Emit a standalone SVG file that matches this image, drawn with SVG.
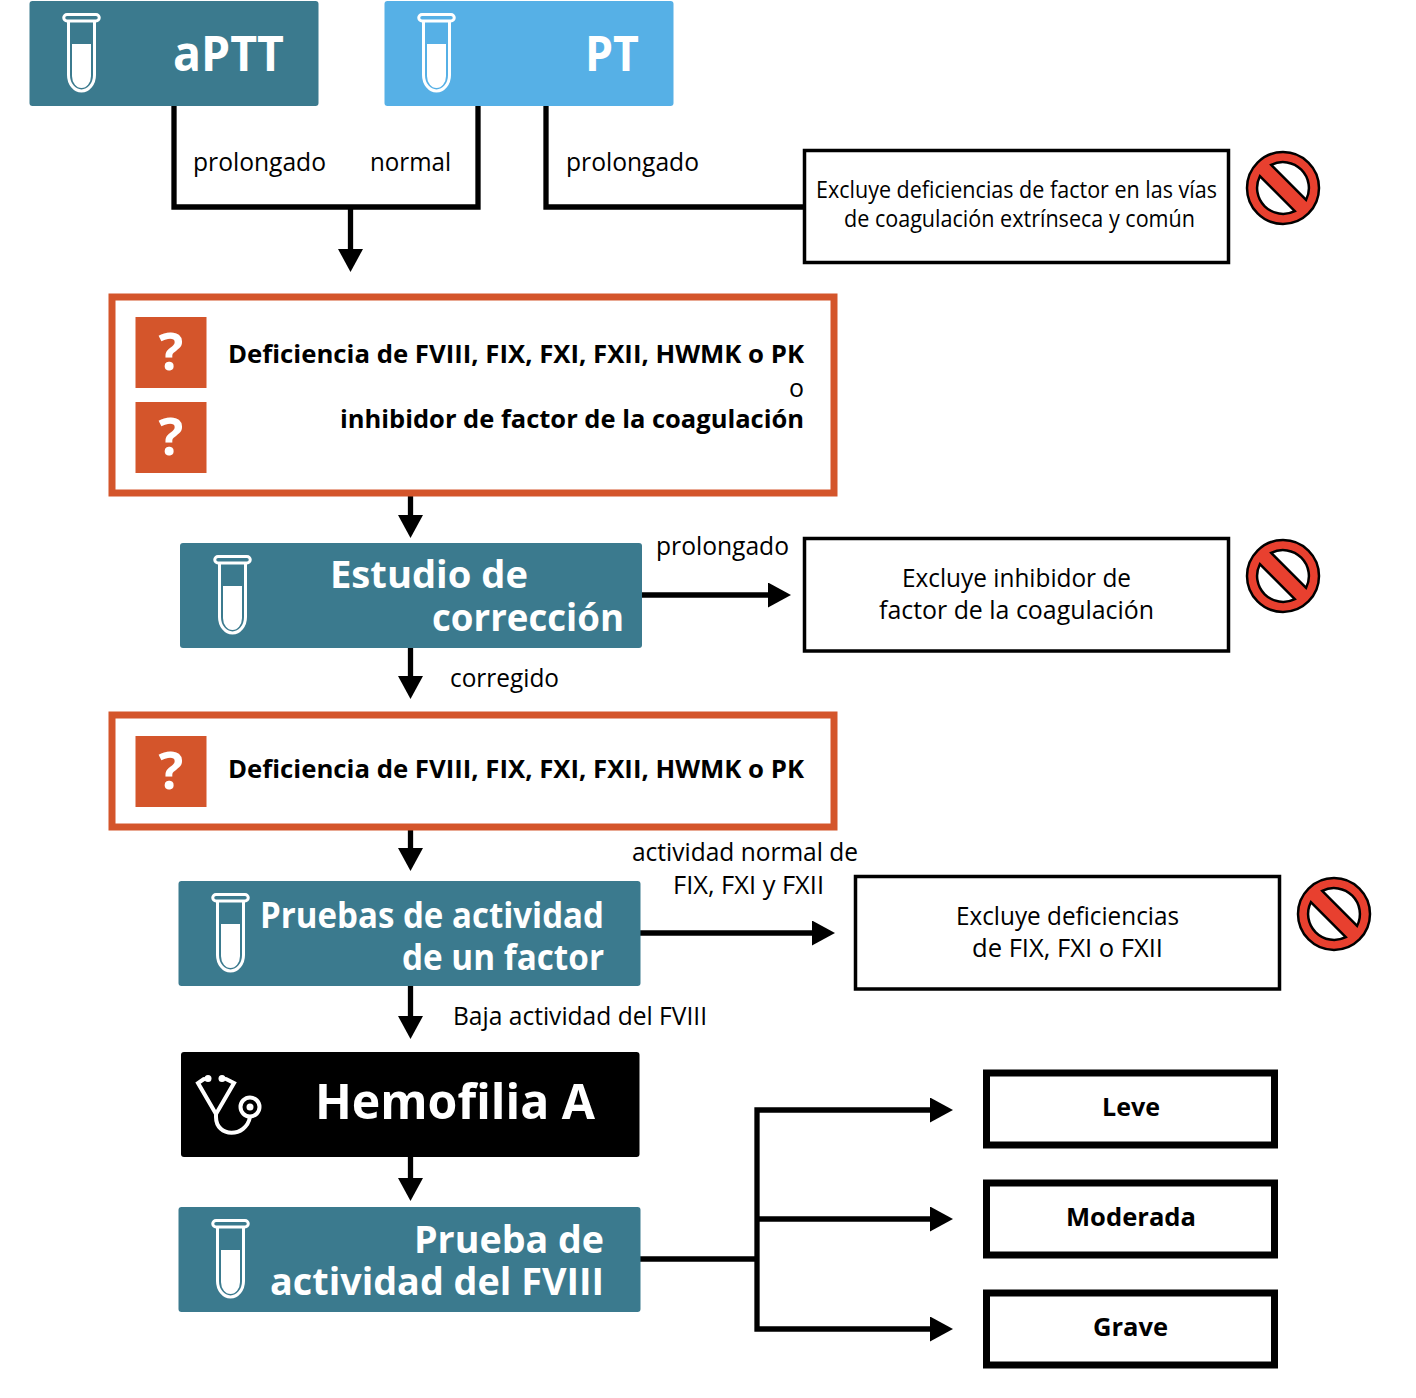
<svg xmlns="http://www.w3.org/2000/svg" xmlns:xlink="http://www.w3.org/1999/xlink" width="1416" height="1398" viewBox="0 0 1416 1398">
<style>
text{font-family:"Open Sans","Noto Sans","Liberation Sans",sans-serif;fill:#000}
.l{font-size:25.500px}
.x{font-size:23px}
.b{font-size:25.500px;font-weight:700}
.h{font-weight:700;fill:#fff;font-size:38px}
.k{font-size:49px}
.q1{font-size:52px;text-anchor:middle}
.c{fill:none;stroke:#000;stroke-width:5.300}
.t{fill:#3b7a8e}
.o{fill:none;stroke:#d4552b;stroke-width:7}
.q{fill:#d4552b}
.box{fill:#fff;stroke:#000;stroke-width:3.500}
.sev{fill:#fff;stroke:#000;stroke-width:7}
</style>
<defs>
<marker id="a" markerUnits="userSpaceOnUse" markerWidth="24" markerHeight="25" refX="0.500" refY="12.500" orient="auto"><path d="M0 0L23 12.500L0 25z" fill="#000"/></marker>
<g id="tube">
<path d="M-13-27H-14.500a3.250 3.250 0 0 1 0-6.500H14.500a3.250 3.250 0 0 1 0 6.500H13V27a13 16 0 0 1-26 0V-27H13" fill="none" stroke="#fff" stroke-width="3"/>
<path d="M-9.500-4H9.500V28a9.500 12 0 0 1-19 0z" fill="#fff"/>
</g>
<g id="no">
<circle r="36" fill="#e8402f" stroke="#000" stroke-width="2.500"/>
<g transform="rotate(45)"><path d="M-24.700-8A26 26 0 0 1 24.700-8z M24.700 8A26 26 0 0 1-24.700 8z" fill="#fff" stroke="#000" stroke-width="2.500"/></g>
</g>
</defs>
<g id="connectors">
<path class="c" d="M174 106V207H478V106"/>
<path class="c" d="M350.500 207V249.500" marker-end="url(#a)"/>
<path class="c" d="M546 106V207H805"/>
<path class="c" d="M410.500 495V515.500" marker-end="url(#a)"/>
<path class="c" d="M642 595H768.500" marker-end="url(#a)"/>
<path class="c" d="M410.500 648V676.500" marker-end="url(#a)"/>
<path class="c" d="M410.500 829V848.500" marker-end="url(#a)"/>
<path class="c" d="M640 933H812.500" marker-end="url(#a)"/>
<path class="c" d="M410.500 986V1016.500" marker-end="url(#a)"/>
<path class="c" d="M410.500 1157V1178.500" marker-end="url(#a)"/>
<path class="c" d="M640 1259H757"/>
<path class="c" d="M757 1259V1110H930.500" marker-end="url(#a)"/>
<path class="c" d="M757 1219H930.500" marker-end="url(#a)"/>
<path class="c" d="M757 1259V1329H930.500" marker-end="url(#a)"/>
</g>
<g id="labels">
<text class="l" x="193" y="171" textLength="133" lengthAdjust="spacingAndGlyphs">prolongado</text>
<text class="l" x="370" y="171" textLength="81" lengthAdjust="spacingAndGlyphs">normal</text>
<text class="l" x="566" y="171" textLength="133" lengthAdjust="spacingAndGlyphs">prolongado</text>
<text class="l" x="656" y="555" textLength="133" lengthAdjust="spacingAndGlyphs">prolongado</text>
<text class="l" x="450" y="687" textLength="109" lengthAdjust="spacingAndGlyphs">corregido</text>
<text class="l" x="632" y="861" textLength="226" lengthAdjust="spacingAndGlyphs">actividad normal de</text>
<text class="l" x="673" y="894" textLength="151" lengthAdjust="spacingAndGlyphs">FIX, FXI y FXII</text>
<text class="l" x="453" y="1025" textLength="254" lengthAdjust="spacingAndGlyphs">Baja actividad del FVIII</text>
</g>
<g id="aptt"><rect class="t" x="29.500" y="1" width="289" height="105" rx="3"/><use xlink:href="#tube" x="81.500" y="48"/><text class="h k" x="173" y="71" textLength="111" lengthAdjust="spacingAndGlyphs">aPTT</text></g>
<g id="pt"><rect x="384.500" y="1" width="289" height="105" rx="3" fill="#56b0e6"/><use xlink:href="#tube" x="436.500" y="48"/><text class="h k" x="585" y="71" textLength="54" lengthAdjust="spacingAndGlyphs">PT</text></g>
<g id="excl1"><rect class="box" x="804.500" y="150.500" width="424" height="112"/><text class="x" x="816" y="198" textLength="401" lengthAdjust="spacingAndGlyphs">Excluye deficiencias de factor en las vías</text><text class="x" x="844" y="227" textLength="351" lengthAdjust="spacingAndGlyphs">de coagulación extrínseca y común</text><use xlink:href="#no" x="1283" y="188"/></g>
<g id="susp1"><rect class="o" x="112" y="297" width="722" height="196"/>
<rect class="q" x="135.500" y="317" width="71" height="71"/><text class="h q1" x="171" y="370">?</text>
<rect class="q" x="135.500" y="402" width="71" height="71"/><text class="h q1" x="171" y="455">?</text>
<text class="b" x="228" y="363" textLength="576" lengthAdjust="spacingAndGlyphs">Deficiencia de FVIII, FIX, FXI, FXII, HWMK o PK</text><text class="l" x="789" y="397" textLength="15" lengthAdjust="spacingAndGlyphs">o</text><text class="b" x="340" y="428" textLength="464" lengthAdjust="spacingAndGlyphs">inhibidor de factor de la coagulación</text></g>
<g id="correccion"><rect class="t" x="180" y="543" width="462" height="105" rx="3"/><use xlink:href="#tube" x="232.500" y="590"/><text class="h" x="330" y="588" textLength="198" lengthAdjust="spacingAndGlyphs">Estudio de</text><text class="h" x="432" y="631" textLength="192" lengthAdjust="spacingAndGlyphs">corrección</text></g>
<g id="excl2"><rect class="box" x="804.500" y="538.500" width="424" height="112.500"/><text class="l" x="902" y="587" textLength="229" lengthAdjust="spacingAndGlyphs">Excluye inhibidor de</text><text class="l" x="879" y="619" textLength="275" lengthAdjust="spacingAndGlyphs">factor de la coagulación</text><use xlink:href="#no" x="1283" y="576"/></g>
<g id="susp2"><rect class="o" x="112" y="715" width="722" height="112"/><rect class="q" x="135.500" y="736" width="71" height="71"/><text class="h q1" x="171" y="789">?</text><text class="b" x="228" y="778" textLength="576" lengthAdjust="spacingAndGlyphs">Deficiencia de FVIII, FIX, FXI, FXII, HWMK o PK</text></g>
<g id="actividad"><rect class="t" x="178.500" y="881" width="462" height="105" rx="3"/><use xlink:href="#tube" x="230.500" y="928"/><text class="h" x="260" y="928" textLength="344" lengthAdjust="spacingAndGlyphs" style="font-size:36px">Pruebas de actividad</text><text class="h" x="402" y="970" textLength="202" lengthAdjust="spacingAndGlyphs" style="font-size:36px">de un factor</text></g>
<g id="excl3"><rect class="box" x="855.500" y="876.500" width="424" height="112.500"/><text class="l" x="956" y="925" textLength="223" lengthAdjust="spacingAndGlyphs">Excluye deficiencias</text><text class="l" x="972" y="957" textLength="191" lengthAdjust="spacingAndGlyphs">de FIX, FXI o FXII</text><use xlink:href="#no" x="1334" y="914"/></g>
<g id="hemofilia"><rect x="181" y="1052" width="458.500" height="105" rx="3" fill="#000"/>
<g fill="none" stroke="#fff" stroke-width="4" stroke-linecap="round"><path d="M204 1079L198 1083L216 1114M226 1079L234 1083L216 1114"/><path d="M216 1114V1117C216 1138 246 1138 250 1117"/><circle cx="250" cy="1107" r="9.500"/></g><circle cx="250" cy="1107" r="3.500" fill="#fff"/><circle cx="208" cy="1078.500" r="3.500" fill="#fff"/><circle cx="222" cy="1078.500" r="3.500" fill="#fff"/>
<text class="h" x="315" y="1119" style="font-size:49px" textLength="280" lengthAdjust="spacingAndGlyphs">Hemofilia A</text></g>
<g id="prueba"><rect class="t" x="178.500" y="1207" width="462" height="105" rx="3"/><use xlink:href="#tube" x="230.500" y="1254"/><text class="h" x="414" y="1253" textLength="190" lengthAdjust="spacingAndGlyphs">Prueba de</text><text class="h" x="270" y="1295" textLength="334" lengthAdjust="spacingAndGlyphs">actividad del FVIII</text></g>
<g id="leve"><rect class="sev" x="986.500" y="1073" width="288" height="72"/><text class="b" x="1102" y="1116" textLength="58" lengthAdjust="spacingAndGlyphs">Leve</text></g>
<g id="moderada"><rect class="sev" x="986.500" y="1183" width="288" height="72"/><text class="b" x="1066" y="1226" textLength="130" lengthAdjust="spacingAndGlyphs">Moderada</text></g>
<g id="grave"><rect class="sev" x="986.500" y="1293" width="288" height="72"/><text class="b" x="1093" y="1336" textLength="75" lengthAdjust="spacingAndGlyphs">Grave</text></g>
</svg>
